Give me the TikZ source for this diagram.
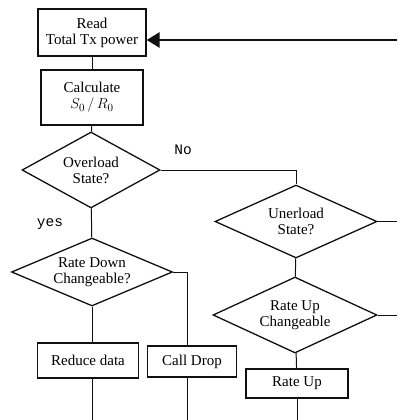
\documentclass[tikz,border=0pt]{standalone}
\usepackage{fontspec}
\setmainfont{Liberation Serif}
\setsansfont{Liberation Mono}
\usepackage{tikz}
\usetikzlibrary{arrows.meta,positioning,shapes.geometric}
\definecolor{cLine}{HTML}{101010}
\tikzset{
  blk/.style  = {rectangle, draw=cLine, line width=1.3pt, align=center,
                 font=\fontsize{15}{16}\selectfont, inner sep=1pt},
  dec/.style  = {diamond, aspect=2.2, draw=cLine, line width=1.3pt, align=center,
                 font=\fontsize{15}{16}\selectfont, inner sep=0pt},
  fl/.style   = {draw=cLine, line width=1pt},
  flb/.style  = {draw=cLine, line width=2.6pt, -{Triangle[length=13pt,width=15pt]}},
  lab/.style  = {font=\sffamily\fontsize{14.5}{15}\selectfont, inner sep=1pt},
}
\begin{document}
\begin{tikzpicture}[x=1pt,y=-1pt]
  \useasboundingbox (0,0) rectangle (397,420);

  \node[blk, minimum width=108pt, minimum height=47pt] (read) at (92,32.5) {Read\\Total Tx power};
  \node[blk, minimum width=102pt, minimum height=55pt] (calc) at (92,97.5) {Calculate\\$S_0\,/\,R_0$};
  \node[dec, minimum width=138pt, minimum height=76pt] (over) at (91,170) {Overload\\State?};
  \node[dec, minimum width=161pt, minimum height=68pt] (rdown) at (92,272) {Rate Down\\Changeable?};
  \node[blk, minimum width=101pt, minimum height=35pt] (reduce) at (88,360.5) {Reduce data};
  \node[blk, minimum width=89pt, minimum height=31pt] (drop) at (192,361.5) {Call Drop};

  \node[dec, minimum width=162pt, minimum height=73pt] (under) at (296,221.5) {Unerload\\State?};
  \node[dec, minimum width=164pt, minimum height=76pt] (rup) at (295,315) {Rate Up\\Changeable};
  \node[blk, minimum width=102pt, minimum height=29pt] (up) at (297,383.5) {Rate Up};

  \coordinate (fb)   at (397,40);
  \coordinate (uout) at (397,221.5);
  \coordinate (rout) at (397,315);
  \coordinate (e1)   at (92,420);
  \coordinate (e2)   at (187,420);
  \coordinate (e3)   at (297,420);

  \node[lab] (no)  at (183,150) {No};
  \node[lab] (yes) at (50,224) {yes};

  \draw[flb] (fb) -- (read.east |- fb);
  \draw[fl] (read) -- (calc);
  \draw[fl] (calc) -- (over);
  \draw[fl] (over) -- (rdown);
  \draw[fl] (over.east) -| (under.north);
  \draw[fl] (under.east) -- (uout);
  \draw[fl] (under) -- (rup);
  \draw[fl] (rup.east) -- (rout);
  \draw[fl] (rup) -- (up);
  \draw[fl] (up.south) -- (e3);
  \draw[fl] (rdown.south) -- (rdown.south |- reduce.north);
  \draw[fl] (rdown.east) -- ++(14,0) |- (drop.north -| e2);
  \draw[fl] (reduce.south -| e1) -- (e1);
  \draw[fl] (drop.south -| e2) -- (e2);
\end{tikzpicture}
\end{document}
